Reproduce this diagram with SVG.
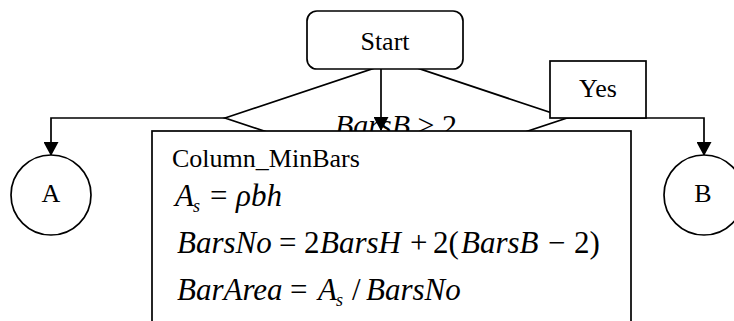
<svg xmlns="http://www.w3.org/2000/svg" width="734" height="321" viewBox="0 0 734 321">
<style>
.s{fill:#fff;stroke:#000;stroke-width:1.7}
.c{fill:none;stroke:#000;stroke-width:1.7}
.t{font-family:"Liberation Serif","Times New Roman",serif;fill:#000}
.i{font-style:italic;font-family:"Liberation Serif","Times New Roman",serif}
.sub{font-style:italic;font-size:18px}
</style>
<defs>
<marker id="ah" markerWidth="14" markerHeight="15" viewBox="0 0 14 15" refX="13" refY="7.5" orient="auto" markerUnits="userSpaceOnUse">
<path d="M0,0 L14,7.5 L0,15 Z" fill="#000"/>
</marker>
</defs>
<rect width="734" height="321" fill="#fff"/>
<g id="decision">
<polygon class="s" points="225,118 396,61 567,118 396,175"/>
<text class="t" x="396" y="135" font-size="30" text-anchor="middle"><tspan class="i">BarsB</tspan> &gt; 2</text>
</g>
<g id="connectors">
<path class="c" d="M225,118 H51 V155" marker-end="url(#ah)"/>
<path class="c" d="M567,118 H704 V155" marker-end="url(#ah)"/>
<path class="c" d="M381,69 V130" marker-end="url(#ah)"/>
</g>
<g id="start">
<rect class="s" x="307" y="11" width="156" height="58" rx="10"/>
<text class="t" x="385" y="50" font-size="26" text-anchor="middle">Start</text>
</g>
<g id="yes">
<rect class="s" x="550" y="61" width="96" height="57"/>
<text class="t" x="598" y="97" font-size="26" text-anchor="middle">Yes</text>
</g>
<g id="process">
<rect class="s" x="152" y="131" width="479" height="210"/>
<text class="t" x="172" y="167" font-size="26">Column_MinBars</text>
<text class="t" font-size="31" y="206"><tspan class="i" x="175">A</tspan><tspan class="sub" x="193" y="212">s</tspan><tspan x="210" y="206">=</tspan><tspan class="i" x="236">ρbh</tspan></text>
<text class="t" font-size="31" y="253"><tspan class="i" x="177">BarsNo</tspan><tspan x="279">=</tspan><tspan x="304">2</tspan><tspan class="i" x="320">BarsH</tspan><tspan x="410">+</tspan><tspan x="433">2(</tspan><tspan class="i" x="461">BarsB</tspan><tspan x="548">−</tspan><tspan x="574">2)</tspan></text>
<text class="t" font-size="31" y="300"><tspan class="i" x="177">BarArea</tspan><tspan x="290">=</tspan><tspan class="i" x="318">A</tspan><tspan class="sub" x="336" y="306">s</tspan><tspan x="352" y="300">/</tspan><tspan class="i" x="366">BarsNo</tspan></text>
</g>
<g id="A">
<circle class="s" cx="51" cy="195" r="40"/>
<text class="t" x="51" y="202" font-size="26" text-anchor="middle">A</text>
</g>
<g id="B">
<circle class="s" cx="704" cy="195" r="40"/>
<text class="t" x="703" y="202" font-size="26" text-anchor="middle">B</text>
</g>
</svg>
